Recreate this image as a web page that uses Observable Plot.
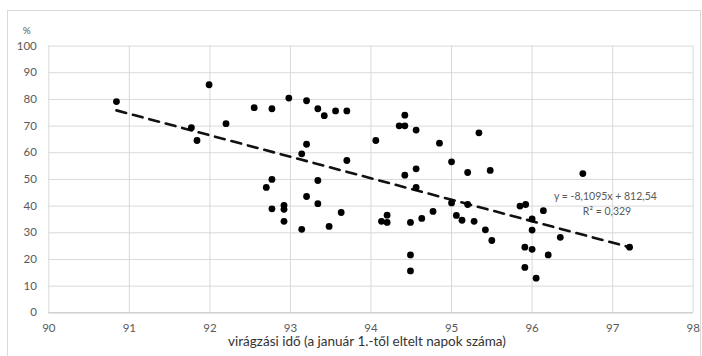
<!DOCTYPE html>
<html>
<head>
<meta charset="utf-8">
<script src="https://cdn.jsdelivr.net/npm/d3@7"></script>
<script src="https://cdn.jsdelivr.net/npm/@observablehq/plot@0.6"></script>
<style>
  html, body { margin: 0; padding: 0; background: #fff; }
  #chart { width: 702px; height: 356px; }
</style>
</head>
<body>
<div id="chart"></div>
<script>
// Flowering time (days since Jan 1) and percentage values
const bloomDay = [
  90.84, 91.77, 91.84, 91.99, 92.20, 92.55, 92.77, 92.98, 93.20, 93.34,
  93.42, 93.56, 93.70, 94.06, 93.20, 93.14, 93.70, 92.77, 92.70, 93.34,
  93.20, 93.34, 92.77, 92.92, 92.92, 92.92, 93.14, 93.48, 93.63, 94.13,
  94.20, 94.20, 94.42, 94.35, 94.42, 94.56, 94.85, 95.34, 95.00, 95.20,
  95.48, 94.42, 94.56, 94.56, 95.00, 95.20, 94.77, 94.63, 94.49, 95.06,
  95.13, 95.28, 95.42, 95.50, 94.49, 94.49, 95.85, 95.92, 96.00, 96.00,
  96.14, 95.91, 96.00, 95.91, 96.05, 96.20, 96.35, 96.63, 97.21
];
const percent = [
  79.2, 69.4, 64.6, 85.5, 70.9, 76.9, 76.5, 80.5, 79.5, 76.5,
  73.9, 75.7, 75.7, 64.6, 63.2, 59.6, 57.1, 50.0, 47.0, 49.6,
  43.6, 40.9, 39.0, 40.3, 38.8, 34.3, 31.3, 32.4, 37.6, 34.3,
  36.6, 33.9, 74.1, 70.1, 70.1, 68.5, 63.6, 67.5, 56.6, 52.6,
  53.4, 51.6, 54.0, 47.0, 41.2, 40.6, 38.0, 35.4, 33.9, 36.5,
  34.7, 34.3, 31.1, 27.1, 21.7, 15.7, 40.0, 40.6, 35.2, 31.0,
  38.3, 24.6, 23.8, 17.0, 13.0, 21.7, 28.3, 52.2, 24.6
];
// Linear trendline end points (as drawn in the picture)
const trendDay = [90.84, 97.21];
const trendPercent = [75.9, 24.6];

const xTicks = [90, 91, 92, 93, 94, 95, 96, 97, 98];
const yTicks = [0, 10, 20, 30, 40, 50, 60, 70, 80, 90, 100];

const equationLines = ["y = -8,1095x + 812,54", "R² = 0,329"];
const xTitle = "virágzási idő (a január 1.-től eltelt napok száma)";
const yUnit = "%";

const points = bloomDay.map((d, i) => ({day: d, pct: percent[i]}));
const trend = trendDay.map((d, i) => ({day: d, pct: trendPercent[i]}));

const chart = Plot.plot({
  width: 702,
  height: 356,
  marginLeft: 48.3,
  marginRight: 9.3,
  marginTop: 45.6,
  marginBottom: 43.7,
  style: {fontFamily: "Lato, 'Open Sans', sans-serif", fontSize: "11.5px", color: "#595959", background: "#fff", overflow: "visible"},
  x: {domain: [90, 98], label: null},
  y: {domain: [0, 100], label: null},
  marks: [
    Plot.gridX(xTicks, {stroke: "#d9d9d9", strokeOpacity: 1, strokeWidth: 1}),
    Plot.gridY(yTicks, {stroke: "#d9d9d9", strokeOpacity: 1, strokeWidth: 1}),
    Plot.ruleY([0], {stroke: "#c8c8c8", strokeWidth: 1}),
    Plot.axisX(xTicks, {tickSize: 0, tickPadding: 11, tickFormat: d => String(d), label: null, fill: "#595959"}),
    Plot.axisY(yTicks, {tickSize: 0, tickPadding: 12, tickFormat: d => String(d), label: null, fill: "#595959"}),
    Plot.line(trend, {x: "day", y: "pct", stroke: "#111", strokeWidth: 2.6, strokeDasharray: "10,7"}),
    Plot.dot(points, {x: "day", y: "pct", r: 3.4, fill: "#000", stroke: "none"}),
    Plot.text([equationLines[0]], {x: 96.91, y: 43.7, text: d => d, fill: "#595959", fontSize: 10.5}),
    Plot.text([equationLines[1]], {x: 96.93, y: 38.1, text: d => d, fill: "#595959", fontSize: 10.5}),
    Plot.text([xTitle], {frameAnchor: "bottom", dy: 33, dx: -4, text: d => d, fill: "#333", fontSize: 13.5}),
    Plot.text([yUnit], {frameAnchor: "top-left", dx: -26, dy: -19, text: d => d, fill: "#595959", fontSize: 10})
  ]
});

// outer chart-area border
d3.select(chart).insert("rect", ":first-child")
  .attr("x", 7.5).attr("y", 10.5).attr("width", 693).attr("height", 350)
  .attr("fill", "#fff").attr("stroke", "#d9d9d9");

document.getElementById("chart").appendChild(chart);
</script>
</body>
</html>
